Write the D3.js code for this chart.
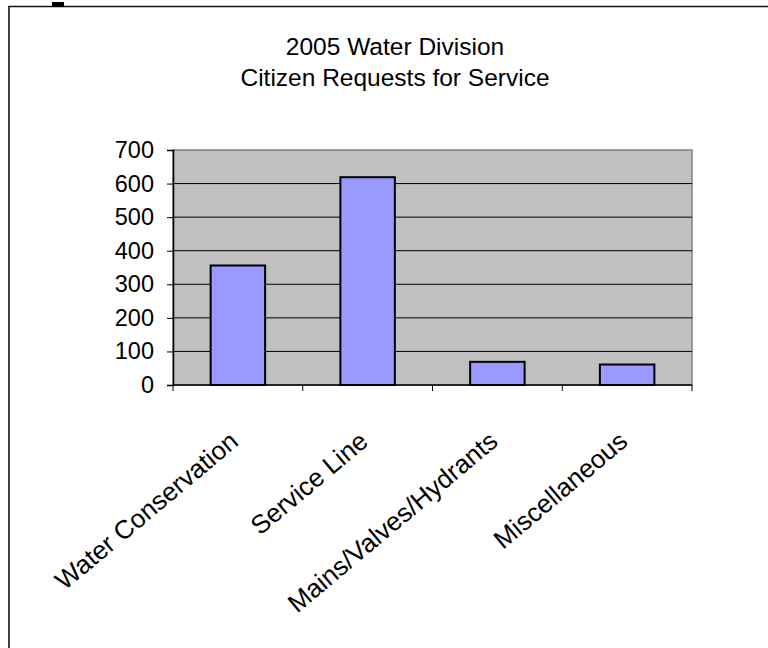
<!DOCTYPE html>
<html>
<head>
<meta charset="utf-8">
<script src="https://cdn.jsdelivr.net/npm/d3@7"></script>
<style>
  html, body { margin: 0; padding: 0; background: #fff; }
  svg { display: block; font-family: "Liberation Sans", Arial, sans-serif; }
</style>
</head>
<body>
<svg id="chart" width="768" height="648"></svg>
<script>
// Requests for service by category, 2005
const categories = ["Water Conservation", "Service Line", "Mains/Valves/Hydrants", "Miscellaneous"];
const requests = [356, 619, 69, 61];
const yTicks = [0, 100, 200, 300, 400, 500, 600, 700];
const titleLines = ["2005 Water Division", "Citizen Requests for Service"];

const svg = d3.select("#chart");
const plot = { left: 173, right: 692, top: 150, bottom: 385 };

// Outer chart frame (continues past the right and bottom edges)
svg.append("path")
  .attr("d", "M9,660 L9,6.5 L780,6.5")
  .attr("fill", "none")
  .attr("stroke", "#111")
  .attr("stroke-width", 1.6);
svg.append("rect")
  .attr("x", 52).attr("y", 2).attr("width", 12).attr("height", 5)
  .attr("fill", "#000");

// Title
svg.append("g").selectAll("text")
  .data(titleLines)
  .join("text")
  .attr("x", 395)
  .attr("y", (d, i) => 55 + i * 31)
  .attr("text-anchor", "middle")
  .attr("font-size", 24.5)
  .attr("fill", "#000")
  .text(d => d);

const y = d3.scaleLinear().domain([0, 700]).range([plot.bottom, plot.top]);
const x = d3.scaleBand().domain(categories)
  .range([plot.left, plot.right])
  .paddingInner(0.58).paddingOuter(0.29);
const xEdges = d3.scaleBand().domain(categories).range([plot.left, plot.right]);

// Plot area background and border
svg.append("rect")
  .attr("x", plot.left).attr("y", plot.top)
  .attr("width", plot.right - plot.left).attr("height", plot.bottom - plot.top)
  .attr("fill", "#C0C0C0")
  .attr("stroke", "#808080")
  .attr("stroke-width", 1.5);

// Horizontal gridlines
svg.append("g").selectAll("line")
  .data(yTicks.filter(t => t > 0 && t < 700))
  .join("line")
  .attr("x1", plot.left).attr("x2", plot.right)
  .attr("y1", d => y(d)).attr("y2", d => y(d))
  .attr("stroke", "#000").attr("stroke-width", 1);

// Bars
svg.append("g").selectAll("rect")
  .data(categories)
  .join("rect")
  .attr("x", d => x(d))
  .attr("y", (d, i) => y(requests[i]))
  .attr("width", x.bandwidth())
  .attr("height", (d, i) => y(0) - y(requests[i]))
  .attr("fill", "#9999FF")
  .attr("stroke", "#000")
  .attr("stroke-width", 2);

// Y axis
const yAxis = svg.append("g")
  .attr("transform", `translate(${plot.left},0)`)
  .call(d3.axisLeft(y).tickValues(yTicks).tickSize(6).tickPadding(13).tickFormat(d3.format("d")));
yAxis.select(".domain").attr("stroke", "#000").attr("stroke-width", 1.5);
yAxis.selectAll(".tick line").attr("stroke", "#000");
yAxis.selectAll(".tick text")
  .attr("font-size", 23.5)
  .attr("font-family", "Liberation Sans, Arial, sans-serif")
  .attr("fill", "#000");

// X axis baseline and category separator ticks
svg.append("line")
  .attr("x1", plot.left).attr("x2", plot.right)
  .attr("y1", plot.bottom).attr("y2", plot.bottom)
  .attr("stroke", "#000").attr("stroke-width", 1.5);
const edges = categories.map(c => xEdges(c)).concat([plot.right]);
svg.append("g").selectAll("line")
  .data(edges)
  .join("line")
  .attr("x1", d => d).attr("x2", d => d)
  .attr("y1", plot.bottom).attr("y2", plot.bottom + 6)
  .attr("stroke", "#000").attr("stroke-width", 1);

// Rotated category labels
svg.append("g").selectAll("text")
  .data(categories)
  .join("text")
  .attr("transform", d => `translate(${x(d) + x.bandwidth() / 2 + 2},${plot.bottom + 59}) rotate(-40)`)
  .attr("text-anchor", "end")
  .attr("font-size", 26)
  .attr("fill", "#000")
  .text(d => d);
</script>
</body>
</html>
